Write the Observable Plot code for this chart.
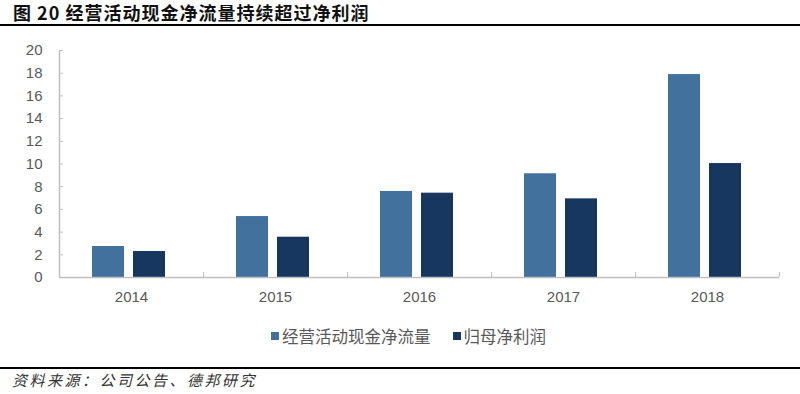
<!DOCTYPE html>
<html>
<head>
<meta charset="utf-8">
<script src="https://cdn.jsdelivr.net/npm/d3@7"></script>
<script src="https://cdn.jsdelivr.net/npm/@observablehq/plot@0.6"></script>
<style>
  html, body { margin: 0; padding: 0; background: #fff; }
  #page { position: relative; width: 800px; height: 394px; overflow: hidden; }
  #title { position: absolute; left: 13px; top: 0px; font-family: "Noto Sans CJK SC", sans-serif; font-weight: 700; font-size: 18px; line-height: 24px; color: #111; letter-spacing: 1px; }
  #rule1 { position: absolute; left: 0; top: 24px; width: 800px; height: 2px; background: #000; }
  #chart { position: absolute; left: 0; top: 27px; }
  #legend { position: absolute; left: 271px; top: 324px; display: flex; align-items: center; font-family: "Noto Sans CJK SC", sans-serif; font-size: 16.5px; color: #595959; }
  .sw { display: inline-block; width: 8px; height: 8px; margin-right: 3px; }
  .item { display: flex; align-items: center; margin-right: 22px; }
  #rule2 { position: absolute; left: 0; top: 367px; width: 800px; height: 2px; background: #000; }
  #source { position: absolute; left: 12px; top: 369px; font-family: "Noto Sans CJK SC", sans-serif; font-style: italic; font-size: 15px; color: #333; letter-spacing: 2.5px; }
</style>
</head>
<body>
<div id="page">
  <div id="title"></div>
  <div id="rule1"></div>
  <div id="chart"></div>
  <div id="legend"></div>
  <div id="rule2"></div>
  <div id="source"></div>
</div>
<script>
const titleText = "图 20 经营活动现金净流量持续超过净利润";
const sourceText = "资料来源：公司公告、德邦研究";
const years = [2014, 2015, 2016, 2017, 2018];
const seriesNames = ["经营活动现金净流量", "归母净利润"];
const operatingCashFlow = [2.73, 5.37, 7.58, 9.14, 17.88];
const netProfit = [2.29, 3.55, 7.43, 6.93, 10.04];
const yTicks = [0, 2, 4, 6, 8, 10, 12, 14, 16, 18, 20];
const colors = ["#41719c", "#17375e"];

document.getElementById("title").textContent = titleText;
document.getElementById("source").textContent = sourceText;

const cashData = years.map((y, i) => ({year: y, value: operatingCashFlow[i]}));
const profitData = years.map((y, i) => ({year: y, value: netProfit[i]}));
const boundaries = d3.range(years.length + 1).map(i => years[0] - 0.5 + i);

const axisColor = "#bfbfbf";
const labelColor = "#595959";

const plot = Plot.plot({
  width: 800,
  height: 300,
  marginLeft: 59,
  marginRight: 21,
  marginTop: 23,
  marginBottom: 50,
  style: {fontFamily: "'Liberation Sans', Arial, sans-serif", fontSize: "15px", color: labelColor, background: "transparent"},
  x: {type: "linear", domain: [years[0] - 0.5, years[years.length - 1] + 0.5]},
  y: {domain: [0, 20]},
  marks: [
    Plot.rectY(cashData, {x1: d => d.year - 0.5, x2: d => d.year + 0.5, y: "value", fill: colors[0], insetLeft: 33, insetRight: 79}),
    Plot.rectY(profitData, {x1: d => d.year - 0.5, x2: d => d.year + 0.5, y: "value", fill: colors[1], insetLeft: 74, insetRight: 38}),
    Plot.ruleY([0], {stroke: axisColor, strokeWidth: 1.5}),
    Plot.ruleX([years[0] - 0.5], {stroke: axisColor, strokeWidth: 1.5}),
    Plot.axisY({ticks: yTicks, tickSize: 4, dx: 4, text: null, stroke: axisColor, label: null}),
    Plot.axisY({ticks: yTicks, tickSize: 0, tickPadding: 17, tickFormat: d => String(d), fill: labelColor, label: null, fontSize: 15}),
    Plot.axisX({ticks: boundaries, tickSize: 5, dy: -5, text: null, stroke: axisColor, label: null}),
    Plot.axisX({ticks: years, tickSize: 0, tickPadding: 14, tickFormat: d => String(d), fill: labelColor, label: null, fontSize: 15})
  ]
});
document.getElementById("chart").appendChild(plot);

const legend = document.getElementById("legend");
seriesNames.forEach((name, i) => {
  const item = document.createElement("div");
  item.className = "item";
  const sw = document.createElement("span");
  sw.className = "sw";
  sw.style.background = colors[i];
  const t = document.createElement("span");
  t.textContent = name;
  item.appendChild(sw);
  item.appendChild(t);
  legend.appendChild(item);
});
</script>
</body>
</html>
